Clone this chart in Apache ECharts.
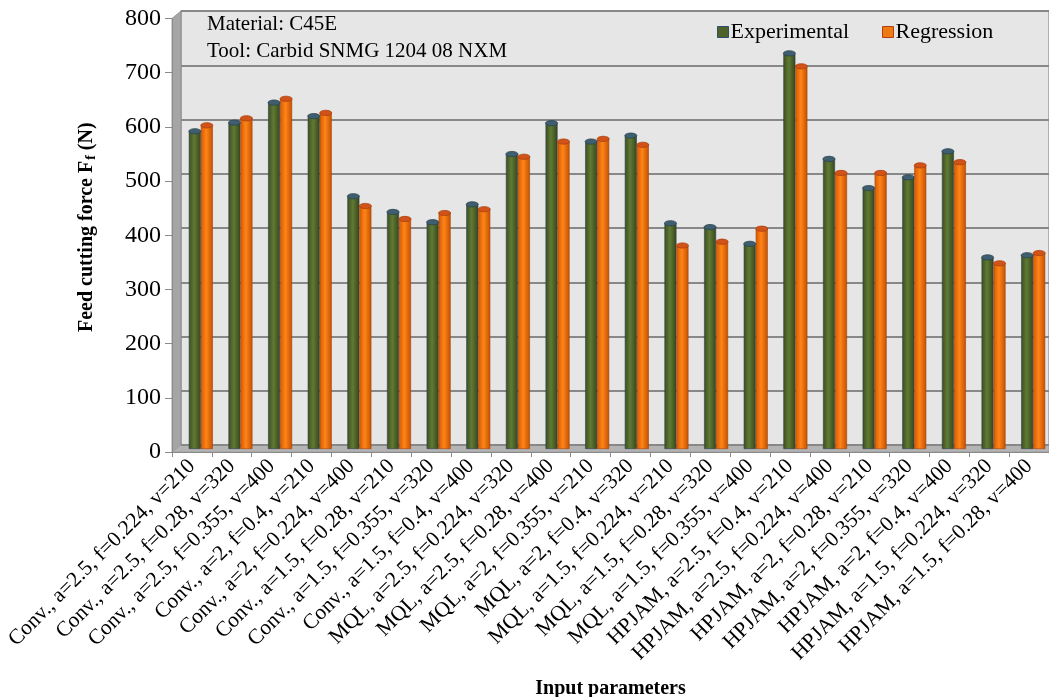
<!DOCTYPE html>
<html>
<head>
<meta charset="utf-8">
<script src="https://cdn.jsdelivr.net/npm/echarts@6/dist/echarts.min.js"></script>
<style>
html,body{margin:0;padding:0;background:#fff;}
#c{width:1049px;height:697px;}
</style>
</head>
<body>
<div id="c"></div>
<script>
const categories = [
  'Conv., a=2.5, f=0.224, v=210',
  'Conv., a=2.5, f=0.28, v=320',
  'Conv., a=2.5, f=0.355, v=400',
  'Conv., a=2, f=0.4, v=210',
  'Conv., a=2, f=0.224, v=400',
  'Conv., a=1.5, f=0.28, v=210',
  'Conv., a=1.5, f=0.355, v=320',
  'Conv., a=1.5, f=0.4, v=400',
  'MQL, a=2.5, f=0.224, v=320',
  'MQL, a=2.5, f=0.28, v=400',
  'MQL, a=2, f=0.355, v=210',
  'MQL, a=2, f=0.4, v=320',
  'MQL, a=1.5, f=0.224, v=210',
  'MQL, a=1.5, f=0.28, v=320',
  'MQL, a=1.5, f=0.355, v=400',
  'HPJAM, a=2.5, f=0.4, v=210',
  'HPJAM, a=2.5, f=0.224, v=400',
  'HPJAM, a=2, f=0.28, v=210',
  'HPJAM, a=2, f=0.355, v=320',
  'HPJAM, a=2, f=0.4, v=400',
  'HPJAM, a=1.5, f=0.224, v=320',
  'HPJAM, a=1.5, f=0.28, v=400'
];
const experimental = [587,603,640,615,467,438,419,452,545,602,568,579,417,410,379,731,536,482,502,550,354,358];
const regression   = [598,611,647,621,449,425,436,443,540,568,573,562,376,383,407,707,510,510,524,530,343,362];
const seriesNames = ['Experimental', 'Regression'];
const yMin = 0, yMax = 800, yStep = 100;
const annotation = ['Material: C45E', 'Tool: Carbid SNMG 1204 08 NXM'];
const yTitle = 'Feed cutting force F';
const xTitle = 'Input parameters';

const SERIF = '"Liberation Serif", "Times New Roman", serif';
const BAR_W = 12;

const chart = echarts.init(document.getElementById('c'), null, {renderer: 'canvas'});

const greenGrad = new echarts.graphic.LinearGradient(0, 0, 1, 0, [
  {offset: 0, color: '#3c4e1d'},
  {offset: 0.45, color: '#607a34'},
  {offset: 1, color: '#36461a'}
]);
const orangeGrad = new echarts.graphic.LinearGradient(0, 0, 1, 0, [
  {offset: 0, color: '#d45a00'},
  {offset: 0.45, color: '#ff8418'},
  {offset: 1, color: '#c25000'}
]);

function capSeries(name, data, dx, fill, stroke) {
  return {
    type: 'custom',
    name: name,
    xAxisIndex: 0,
    yAxisIndex: 0,
    z: 5,
    silent: true,
    data: data.map((v, i) => [i, v]),
    renderItem: function (params, api) {
      const p = api.coord([api.value(0), api.value(1)]);
      return {
        type: 'ellipse',
        shape: {cx: p[0] + dx, cy: p[1], rx: BAR_W / 2, ry: 2.6},
        style: {fill: fill, stroke: stroke, lineWidth: 0.8}
      };
    }
  };
}

const option = {
  animation: false,
  backgroundColor: '#ffffff',
  grid: [
    {left: 181, right: -4, top: 16, bottom: 248, containLabel: false, outerBoundsMode: 'none'},
    {left: 181, right: 0, top: 11, bottom: 252, containLabel: false, outerBoundsMode: 'none'},
    {left: 172, right: 0, top: 18.5, bottom: 245, containLabel: false, outerBoundsMode: 'none'}
  ],
  legend: {
    data: [
      {name: seriesNames[0], itemStyle: {color: '#4f6228', borderColor: '#2e4e6e', borderWidth: 1}},
      {name: seriesNames[1], itemStyle: {color: '#f07a12', borderColor: '#b0401a', borderWidth: 1}}
    ],
    left: 712, top: 16,
    icon: 'rect',
    itemWidth: 11, itemHeight: 11, itemGap: 33,
    textStyle: {fontFamily: SERIF, fontSize: 22, color: '#000', padding: [0, 0, 0, -3]}
  },
  xAxis: [
    {gridIndex: 0, type: 'category', data: categories, show: false},
    {gridIndex: 1, type: 'category', data: categories, show: false},
    {
      gridIndex: 2, type: 'category', data: categories,
      axisLine: {show: true, lineStyle: {color: '#8a8a8a', width: 1}},
      axisTick: {show: true, length: 5, lineStyle: {color: '#8a8a8a'}},
      axisLabel: {rotate: 45, interval: 0, margin: 11, fontFamily: SERIF, fontSize: 21.5, color: '#000'},
      name: xTitle, nameLocation: 'middle', nameGap: 227,
      nameTextStyle: {fontFamily: SERIF, fontSize: 20, fontWeight: 'bold', color: '#000'}
    }
  ],
  yAxis: [
    {gridIndex: 0, type: 'value', min: yMin, max: yMax, interval: yStep, show: false},
    {
      gridIndex: 1, type: 'value', min: yMin, max: yMax, interval: yStep,
      axisLine: {show: false}, axisTick: {show: false}, axisLabel: {show: false},
      splitLine: {show: true, lineStyle: {color: '#888888', width: 1.8}}
    },
    {
      gridIndex: 2, type: 'value', min: yMin, max: yMax, interval: yStep,
      axisLine: {show: true, lineStyle: {color: '#8a8a8a'}},
      axisTick: {show: true, length: 7, lineStyle: {color: '#8a8a8a'}},
      axisLabel: {margin: 11, fontFamily: SERIF, fontSize: 24, color: '#000'},
      splitLine: {show: false},
      name: '{t|' + yTitle + '}{s|f}{t| (N)}',
      nameLocation: 'middle', nameGap: 74,
      nameTextStyle: {
        padding: [0, 0, 0, 16],
        rich: {
          t: {fontFamily: SERIF, fontSize: 20, fontWeight: 'bold', color: '#000'},
          s: {fontFamily: SERIF, fontSize: 14, fontWeight: 'bold', color: '#000', verticalAlign: 'bottom', padding: [8, 0, 0, 1]}
        }
      }
    }
  ],
  graphic: [
    {type: 'rect', z: -10, shape: {x: 181, y: 11, width: 868, height: 434},
      style: {fill: '#e6e6e6', stroke: '#8c8c8c', lineWidth: 1.2}},
    {type: 'polygon', z: -9, shape: {points: [[172, 18.5], [181, 11], [181, 445], [172, 452]]},
      style: {fill: '#a5a5a5', stroke: '#8c8c8c', lineWidth: 0.8}},
    {type: 'polygon', z: -9, shape: {points: [[172, 452], [181, 445], [1049, 445], [1049, 452]]},
      style: {fill: '#b4b4b4', stroke: '#9a9a9a', lineWidth: 0.8}},
    {type: 'text', left: 207, top: 14, z: 10,
      style: {text: annotation[0], font: '21px ' + SERIF, fill: '#000'}},
    {type: 'text', left: 207, top: 41, z: 10,
      style: {text: annotation[1], font: '21px ' + SERIF, fill: '#000'}}
  ],
  series: [
    {
      type: 'bar', name: seriesNames[0], xAxisIndex: 0, yAxisIndex: 0,
      data: experimental, barWidth: BAR_W, barGap: '0%', z: 3,
      itemStyle: {color: greenGrad, borderColor: '#2f4050', borderWidth: 0.6}
    },
    {
      type: 'bar', name: seriesNames[1], xAxisIndex: 0, yAxisIndex: 0,
      data: regression, barWidth: BAR_W, barGap: '0%', z: 3,
      itemStyle: {color: orangeGrad, borderColor: '#a8420c', borderWidth: 0.6}
    },
    capSeries('capE', experimental, -BAR_W / 2, '#3f5f70', '#2a4250'),
    capSeries('capR', regression, BAR_W / 2, '#d2531a', '#a8400c')
  ]
};
chart.setOption(option);
</script>
</body>
</html>
